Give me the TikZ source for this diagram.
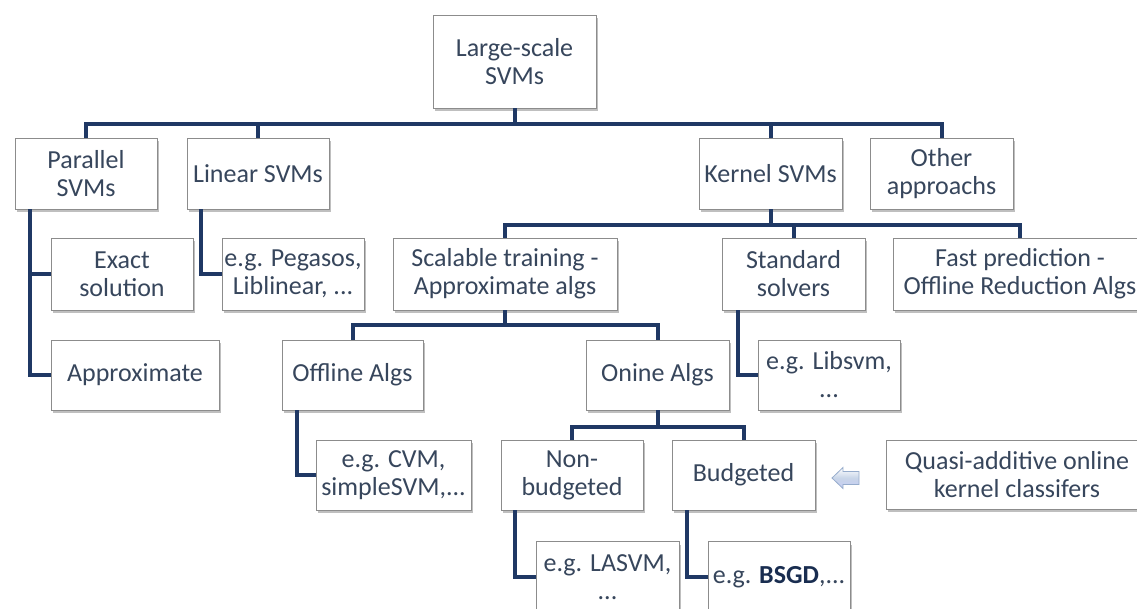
\documentclass[tikz,border=0pt]{standalone}
\usepackage{fontspec}
\setmainfont{Carlito}
\usetikzlibrary{shadows,calc}
\definecolor{conncol}{RGB}{31,56,100}
\definecolor{txtcol}{RGB}{55,70,92}
\definecolor{bordcol}{RGB}{140,140,140}
\definecolor{arrfill}{RGB}{200,213,232}
\definecolor{arrdraw}{RGB}{150,172,204}
\tikzset{
  box/.style={draw=bordcol, line width=0.8pt, fill=white, inner sep=0pt,
    align=center, text=txtcol, font=\fontsize{26}{28}\selectfont,
    drop shadow={shadow xshift=2pt, shadow yshift=-3pt, opacity=0.25, fill=black}},
  conn/.style={draw=conncol, line width=4pt, line join=miter},
}
\begin{document}
\begin{tikzpicture}[x=1pt,y=-1pt]
\useasboundingbox (0,0) rectangle (1137,609);
\fill[white] (0,0) rectangle (1137,609);
% nodes
\node[box, minimum width=163pt, minimum height=93pt] (root) at (514.5,61.5) {Large-scale\\SVMs};
\node[box, minimum width=142pt, minimum height=71pt] (par) at (86,173.5) {Parallel\\SVMs};
\node[box, minimum width=142pt, minimum height=71pt] (lin) at (258,173.5) {Linear SVMs};
\node[box, minimum width=143pt, minimum height=71pt] (ker) at (770.5,173.5) {Kernel SVMs};
\node[box, minimum width=143pt, minimum height=71pt] (oth) at (941.5,173.5) {Other\\approachs};
\node[box, minimum width=142pt, minimum height=72pt] (exact) at (122,274) {Exact\\solution};
\node[box, minimum width=142pt, minimum height=72pt] (peg) at (293,274) {e.g. Pegasos,\\Liblinear, ...};
\node[box, minimum width=224pt, minimum height=72pt] (scal) at (505,274) {Scalable training -\\Approximate algs};
\node[box, minimum width=143pt, minimum height=72pt] (std) at (793.5,274) {Standard\\solvers};
\node[box, minimum width=254pt, minimum height=72pt] (fast) at (1020,274) {Fast prediction -\\Offline Reduction Algs};
\node[box, minimum width=168pt, minimum height=70pt] (approx) at (135,375) {Approximate};
\node[box, minimum width=141pt, minimum height=70pt] (off) at (352.5,375) {Offline Algs};
\node[box, minimum width=143pt, minimum height=70pt] (onl) at (657.5,375) {Onine Algs};
\node[box, minimum width=142pt, minimum height=70pt] (lib) at (829,375) {e.g. Libsvm,\\...};
\node[box, minimum width=155pt, minimum height=70pt] (cvm) at (393.5,475) {e.g. CVM,\\simpleSVM,...};
\node[box, minimum width=142pt, minimum height=70pt] (nonb) at (572,475) {Non-\\budgeted};
\node[box, minimum width=143pt, minimum height=70pt] (bud) at (743.5,475) {Budgeted};
\node[box, minimum width=262pt, minimum height=69pt] (quasi) at (1017,474.5) {Quasi-additive online\\kernel classifers};
\node[box, minimum width=143pt, minimum height=71pt] (lasvm) at (607.5,577) {e.g. LASVM,\\...};
\node[box, minimum width=142pt, minimum height=71pt] (bsgd) at (779,577) {e.g. \textbf{\color{conncol!80!black}BSGD},...};
% bus levels
\coordinate (b1) at (0,124);
\coordinate (b2) at (0,225);
\coordinate (b3) at (0,325);
\coordinate (b4) at (0,427);
% tree connectors
\foreach \c in {par,lin,ker,oth}
  \draw[conn] (root.south) -- (root.south |- b1) -| (\c.north);
\foreach \c in {scal,std,fast}
  \draw[conn] (ker.south) -- (ker.south |- b2) -| (\c.north);
\foreach \c in {off,onl}
  \draw[conn] (scal.south) -- (scal.south |- b3) -| (\c.north);
\foreach \c in {nonb,bud}
  \draw[conn] (onl.south) -- (onl.south |- b4) -| (\c.north);
% elbow connectors
\draw[conn] ([xshift=15pt]par.south west) |- (exact.west);
\draw[conn] ([xshift=15pt]par.south west) |- (approx.west);
\draw[conn] ([xshift=14pt]lin.south west) |- (peg.west);
\draw[conn] ([xshift=16pt]std.south west) |- (lib.west);
\draw[conn] ([xshift=15pt]off.south west) |- (cvm.west);
\draw[conn] ([xshift=14pt]nonb.south west) |- (lasvm.west);
\draw[conn] ([xshift=15pt]bud.south west) |- (bsgd.west);
% block arrow
\draw[draw=arrdraw, line width=0.8pt, top color=white, bottom color=arrfill!80!blue!60!white, middle color=arrfill]
  (832,478) -- (843,467.5) -- (843,471.5) -- (859,471.5) -- (859,484.5) -- (843,484.5) -- (843,488.5) -- cycle;
\end{tikzpicture}
\end{document}
